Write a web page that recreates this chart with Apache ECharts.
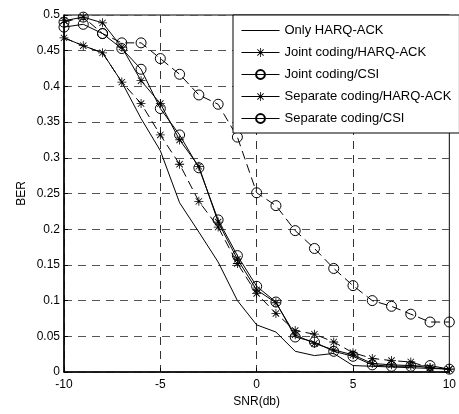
<!DOCTYPE html>
<html><head><meta charset="utf-8">
<script src="https://cdn.jsdelivr.net/npm/echarts@6/dist/echarts.min.js"></script>
<style>html,body{margin:0;padding:0;background:#fff}#c{width:459px;height:414px}</style>
</head><body><div id="c"></div>
<script>
const snr = [-10,-9,-8,-7,-6,-5,-4,-3,-2,-1,0,1,2,3,4,5,6,7,8,9,10];
const onlyHarq   = [0.468,0.457,0.447,0.406,0.355,0.310,0.237,0.196,0.154,0.100,0.066,0.056,0.029,0.023,0.026,0.009,0.008,0.007,0.006,0.005,0.004];
const jointHarq  = [0.492,0.497,0.489,0.455,0.408,0.376,0.325,0.288,0.210,0.158,0.115,0.097,0.052,0.040,0.031,0.024,0.012,0.010,0.009,0.006,0.004];
const jointCsi   = [0.483,0.487,0.474,0.453,0.424,0.369,0.332,0.286,0.213,0.163,0.120,0.098,0.049,0.042,0.029,0.022,0.010,0.008,0.008,0.009,0.004];
const sepHarq    = [0.468,0.457,0.447,0.406,0.376,0.332,0.291,0.239,0.203,0.152,0.110,0.082,0.058,0.053,0.042,0.027,0.019,0.016,0.014,0.006,0.004];
const sepCsi     = [0.490,0.497,0.474,0.461,0.461,0.439,0.417,0.388,0.375,0.329,0.251,0.233,0.198,0.173,0.145,0.121,0.100,0.092,0.081,0.070,0.070];
const seriesNames = ['Only HARQ-ACK','Joint coding/HARQ-ACK','Joint coding/CSI','Separate coding/HARQ-ACK','Separate coding/CSI'];
const xTicks = [-10,-5,0,5,10];

const star = 'path://M-0.9,-10L0.9,-10L0.9,10L-0.9,10Z M-10,-0.9L10,-0.9L10,0.9L-10,0.9Z M-6.43,-7.71L7.71,6.43L6.43,7.71L-7.71,-6.43Z M6.43,-7.71L7.71,-6.43L-6.43,7.71L-7.71,6.43Z';
const pair = arr => snr.map((x,i)=>[x,arr[i]]);
const F = 'Liberation Sans, Arial, sans-serif';
function mk(name, arr, symbol, dashed, size){
  const isCircle = symbol === 'circle';
  return {name, type:'line', data:pair(arr), symbol: symbol||'none', showSymbol: !!symbol,
    symbolSize:size||9, animation:false,
    lineStyle:{color:'#000', width:1, type: dashed? [9,5] : 'solid'},
    itemStyle: isCircle ? {color:'rgba(0,0,0,0)', borderColor:'#000', borderWidth:1}
                        : {color:'#000', borderWidth:0}};
}
const chart = echarts.init(document.getElementById('c'));
chart.setOption({
  animation:false,
  grid:{left:64, right:7, top:15, bottom:42, show:true, borderColor:'#000', borderWidth:1},
  legend:{orient:'vertical', left:233, top:15, itemWidth:38, itemHeight:11, itemGap:9,
    padding:[9,8,8,8], backgroundColor:'#fff', borderColor:'#000', borderWidth:1,
    textStyle:{fontFamily:F, fontSize:13, color:'#000'},
    lineStyle:{type:'solid', width:1},
    data: seriesNames.map((n,i)=> i===0 ? {name:n, itemStyle:{opacity:0}} : {name:n})},
  xAxis:{type:'value', min:-10, max:10, interval:5, name:'SNR(db)', nameLocation:'middle', nameGap:24,
    nameTextStyle:{fontFamily:F, fontSize:12, color:'#000'},
    axisLine:{onZero:false, lineStyle:{color:'#000', width:1.5}},
    axisTick:{inside:true, length:4, lineStyle:{color:'#000'}},
    axisLabel:{fontFamily:F, fontSize:12, color:'#000', margin:7,
      formatter: v => xTicks.includes(v) ? String(v) : ''},
    splitLine:{show:true, lineStyle:{color:'#333', type:[8,6], width:1}}},
  yAxis:{type:'value', min:0, max:0.5, interval:0.05, name:'BER', nameLocation:'middle', nameGap:36, nameRotate:90,
    nameMoveOverlap:false,
    nameTextStyle:{fontFamily:F, fontSize:12, color:'#000'},
    axisLine:{onZero:false, lineStyle:{color:'#000', width:1.5}},
    axisTick:{inside:true, length:4, lineStyle:{color:'#000'}},
    axisLabel:{fontFamily:F, fontSize:12, color:'#000', margin:4,
      formatter: v => String(+v.toFixed(2))},
    splitLine:{show:true, lineStyle:{color:'#555', type:[8,6], width:1}}},
  series:[
    mk(seriesNames[0], onlyHarq, null, false),
    mk(seriesNames[1], jointHarq, star, false, 9),
    mk(seriesNames[2], jointCsi, 'circle', false, 10),
    mk(seriesNames[3], sepHarq, star, true, 9),
    mk(seriesNames[4], sepCsi, 'circle', true, 10)
  ]
});
</script></body></html>
